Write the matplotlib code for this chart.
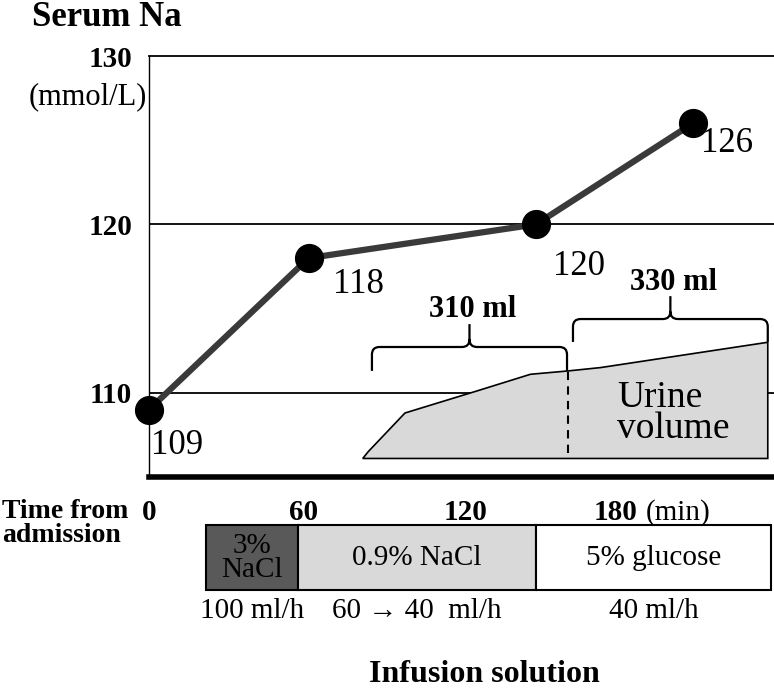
import matplotlib.pyplot as plt
from matplotlib.path import Path
from matplotlib.patches import PathPatch

plt.rcParams['font.family'] = ['Liberation Serif', 'DejaVu Serif']

# Data
# -----------------------------------------------------------
# Serum Na measurements (time in min, mmol/L)
na_time = [0, 59, 143, 201]
na_value = [109, 118, 120, 126]
na_label_offset = [(28, -36), (50, -26), (43, -42), (34, -20)]  # pixels

# Urine volume outline (schematic, drawn on the Na axes)
urine_t = [79, 81, 94.6, 121, 141, 155, 167, 228.7, 228.7]
urine_y = [106.1, 106.5, 108.8, 110.1, 111.1, 111.3, 111.5, 113.0, 106.1]
urine_split = 155  # dashed line time
urine_labels = ['310 ml', '330 ml']

# Infusion schedule
inf_names = ['3%\nNaCl', '0.9% NaCl', '5% glucose']
inf_start = [21, 55, 143]
inf_end = [55, 143, 230]
inf_rates = ['100 ml/h', '60 \u2192 40  ml/h', '40 ml/h']
inf_colors = ['#595959', '#d9d9d9', 'white']

time_ticks = ['0', '60', '120', '180']
time_tick_pos = [0, 57, 117, 172.6]

W, H = 774, 692
fig = plt.figure(figsize=(W / 100, H / 100), dpi=100)

# Main chart
# -----------------------------------------------------------
ax = fig.add_axes([149 / W, (H - 477) / H, (W - 149) / W, (477 - 56) / H])
ax.set_xlim(0, 231)
ax.set_ylim(105, 130)
ax.spines['right'].set_visible(False)
ax.spines['left'].set_linewidth(1.0)
ax.spines['top'].set_linewidth(1.3)
ax.spines['bottom'].set_linewidth(4)
ax.set_xticks([])
ax.set_yticks([110, 120, 130])
ax.set_yticklabels(['110', '120', '130'], fontsize=21, fontweight='bold')
ax.tick_params(axis='y', length=0, pad=12)
for g in [110, 120]:
    ax.axhline(g, color='black', lw=1.3, zorder=1)

# urine volume
ax.fill(urine_t, urine_y, facecolor='#d9d9d9', edgecolor='black', lw=1.2, zorder=2)
ax.plot([urine_split, urine_split], [106.4, 111.3], color='black', lw=1.5,
        ls=(0, (4, 3)), zorder=3)
ax.text(173, 108.8, 'Urine\nvolume', fontsize=27, ha='left', va='center',
        linespacing=0.86, zorder=4)


def brace(x0, x1, y, yend, ytip, label, ytext):
    xm = (x0 + x1) / 2
    rx, ry = 2.8, 0.45
    verts = [(x0, yend), (x0, y - ry), (x0, y), (x0 + rx, y),
             (xm - rx, y), (xm, y), (xm, y + ry), (xm, ytip),
             (x1, yend), (x1, y - ry), (x1, y), (x1 - rx, y),
             (xm + rx, y), (xm, y), (xm, y + ry)]
    codes = [Path.MOVETO, Path.LINETO, Path.CURVE3, Path.CURVE3,
             Path.LINETO, Path.CURVE3, Path.CURVE3, Path.LINETO,
             Path.MOVETO, Path.LINETO, Path.CURVE3, Path.CURVE3,
             Path.LINETO, Path.CURVE3, Path.CURVE3]
    ax.add_patch(PathPatch(Path(verts, codes), fill=False, lw=1.6,
                           edgecolor='black', zorder=4))
    ax.text(xm + 1, ytext, label, fontsize=22, fontweight='bold',
            ha='center', va='center', zorder=4)


brace(82.4, 154.5, 112.72, 111.3, 114.08, urine_labels[0], 114.97)
brace(156.7, 228.7, 114.38, 113.02, 115.74, urine_labels[1], 116.57)

# serum Na line
ax.plot(na_time, na_value, color='#3a3a3a', lw=4.5, zorder=5,
        marker='o', markersize=20, markerfacecolor='black',
        markeredgecolor='black', clip_on=False)
for t, v, off in zip(na_time, na_value, na_label_offset):
    ax.annotate(str(v), (t, v), xytext=off, textcoords='offset pixels',
                fontsize=25, ha='center', va='center', zorder=6)

fig.text(32 / W, 1 - 18 / H, 'Serum Na', fontsize=25, fontweight='bold',
         ha='left', va='center')
fig.text(147 / W, 1 - 97 / H, '(mmol/L)', fontsize=22, ha='right', va='center')

# Infusion schedule
# -----------------------------------------------------------
ax2 = fig.add_axes([149 / W, 0, (W - 149) / W, (H - 485) / H])
ax2.set_xlim(0, 231)
ax2.set_ylim(H, 485)
ax2.axis('off')

widths = [e - s for s, e in zip(inf_start, inf_end)]
ax2.barh(557.5, widths, left=inf_start, height=65, color=inf_colors,
         edgecolor='black', lw=1.5)
for s, e, name, rate in zip(inf_start, inf_end, inf_names, inf_rates):
    xc = (s + e) / 2
    ax2.text(xc, 558, name, fontsize=21, ha='center', va='center',
             linespacing=0.9)
    ax2.text(xc, 611, rate, fontsize=21, ha='center', va='center')

for lab, pos in zip(time_ticks, time_tick_pos):
    ax2.text(pos, 513, lab, fontsize=21, fontweight='bold',
             ha='center', va='center')
ax2.text(183.5, 513, '(min)', fontsize=21, ha='left', va='center')

fig.text(2 / W, 1 - 512 / H, 'Time from', fontsize=20, fontweight='bold',
         ha='left', va='center')
fig.text(2 / W, 1 - 536 / H, 'admission', fontsize=20, fontweight='bold',
         ha='left', va='center')
ax2.text(124, 675, 'Infusion solution', fontsize=23, fontweight='bold',
         ha='center', va='center')

fig.savefig('out.png', dpi=100)
